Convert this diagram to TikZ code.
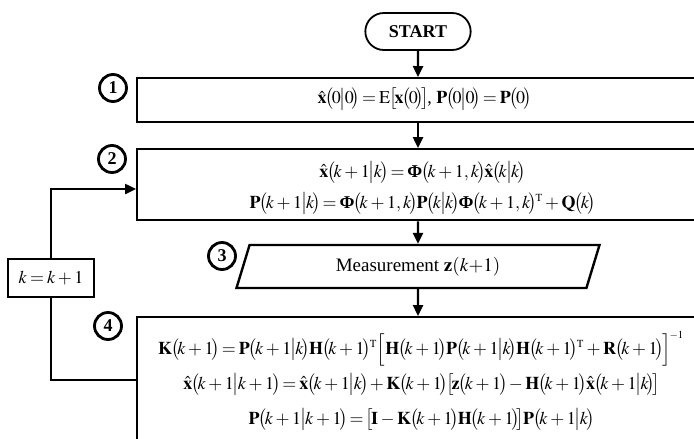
\documentclass[tikz,border=0pt]{standalone}
\usepackage{amsmath}
\usepackage{mathptmx}
\usepackage{fontspec}
\setmainfont{Liberation Serif}
\usepackage{tikz}
\usetikzlibrary{shapes.geometric, shapes.misc, arrows.meta, positioning, calc}

\newcommand{\bPhi}{\mbox{\bfseries Φ}}
\newcommand{\xhat}{\hat{\mathbf{x}}}
\newcommand{\tp}{^{\scriptscriptstyle\mathrm{T}}}
% tight big delimiters
\newcommand{\pa}[1]{\mkern-1mu\bigl(\mkern-2mu#1\mkern-2mu\bigr)\mkern-1mu}
\newcommand{\sq}[1]{\mkern-1mu\bigl[\mkern-2mu#1\mkern-2mu\bigr]\mkern-1mu}
\newcommand{\gv}{\mkern-1mu\big|\mkern-1mu}
\thickmuskip=3mu plus 2mu
\medmuskip=2.5mu plus 1mu

\begin{document}
\begin{tikzpicture}[x=1pt, y=-1pt,
        font=\fontsize{18}{22}\selectfont,
        box/.style={draw, line width=2.4pt, rectangle, anchor=north west, minimum width=620pt, inner sep=0pt},
        terminal/.style={draw, line width=1.8pt, rounded rectangle, minimum width=112pt, minimum height=37pt, font=\fontsize{18}{22}\selectfont\bfseries},
        io/.style={draw, line width=2.4pt, trapezium, trapezium left angle=63, trapezium right angle=117, trapezium stretches body, minimum width=363pt, minimum height=43pt},
        num/.style={draw, circle, line width=2.8pt, minimum size=27pt, inner sep=0pt, font=\fontsize{18}{22}\selectfont\bfseries},
        stepbox/.style={draw, line width=2.4pt, minimum width=86pt, minimum height=38pt},
        eq/.style={align=center},
        line/.style={-{Triangle[length=11pt, width=10pt]}, line width=2.4pt},
        wire/.style={line width=2.4pt}
    ]
        \useasboundingbox (0,0) rectangle (694,439);
        \clip (0,0) rectangle (694,439);

        \node (start) [terminal] at (418,31.5) {START};

        \node (b1) [box, minimum height=44pt] at (136,77) {};
        \node (eq1) [eq] at (424,99) {$\xhat\pa{0\gv0} = \mathrm{E}\sq{\mathbf{x}\pa{0}}\text{, }\mathbf{P}\pa{0\gv0} = \mathbf{P}\pa{0}$};

        \node (b2) [box, minimum height=71pt] at (136,148) {};
        \node (eq2) [eq, font=\fontsize{18}{31}\selectfont] at (422,188) {$\xhat\pa{k+1\gv k} = \bPhi\pa{k+1,k}\xhat\pa{k\gv k}$\\
            $\mathbf{P}\pa{k+1\gv k} = \bPhi\pa{k+1,k}\mathbf{P}\pa{k\gv k}\bPhi\pa{k+1,k}\tp + \mathbf{Q}\pa{k}$};

        \node (meas) [io, font=\fontsize{19}{22}\selectfont] at (418,266.5) {Measurement $\mathbf{z}(k{+}1)$};

        \node (b4) [box, minimum height=200pt] at (136,316) {};
        \node (eq4) [eq, font=\fontsize{18}{35}\selectfont] at (421,381) {$\mathbf{K}\pa{k+1} = \mathbf{P}\pa{k+1\gv k}\mathbf{H}\pa{k+1}\tp\Bigl[\mathbf{H}\pa{k+1}\mathbf{P}\pa{k+1\gv k}\mathbf{H}\pa{k+1}\tp + \mathbf{R}\pa{k+1}\Bigr]^{\scriptscriptstyle\mkern-3mu-1}$\\
            $\xhat\pa{k+1\gv k+1} = \xhat\pa{k+1\gv k} + \mathbf{K}\pa{k+1}\sq{\mathbf{z}\pa{k+1} - \mathbf{H}\pa{k+1}\xhat\pa{k+1\gv k}}$\\
            $\mathbf{P}\pa{k+1\gv k+1} = \sq{\mathbf{I} - \mathbf{K}\pa{k+1}\mathbf{H}\pa{k+1}}\mathbf{P}\pa{k+1\gv k}$};

        \node (kstep) [stepbox] at (51,278) {$k = k+1$};

        \node (n1) [num] at (113,88) {1};
        \node (n2) [num] at (112,159) {2};
        \node (n3) [num] at (222,256) {3};
        \node (n4) [num] at (108,326) {4};

        \coordinate (in2) at (136,189);
        \coordinate (out4) at (136,380);

        \draw [line] (start) -- (start |- b1.north);
        \draw [line] (start |- b1.south) -- (start |- b2.north);
        \draw [line] (start |- b2.south) -- (meas);
        \draw [line] (meas) -- (meas |- b4.north);
        \draw [wire] (out4) -| (kstep);
        \draw [line] (kstep) |- (in2);
    \end{tikzpicture}
\end{document}
